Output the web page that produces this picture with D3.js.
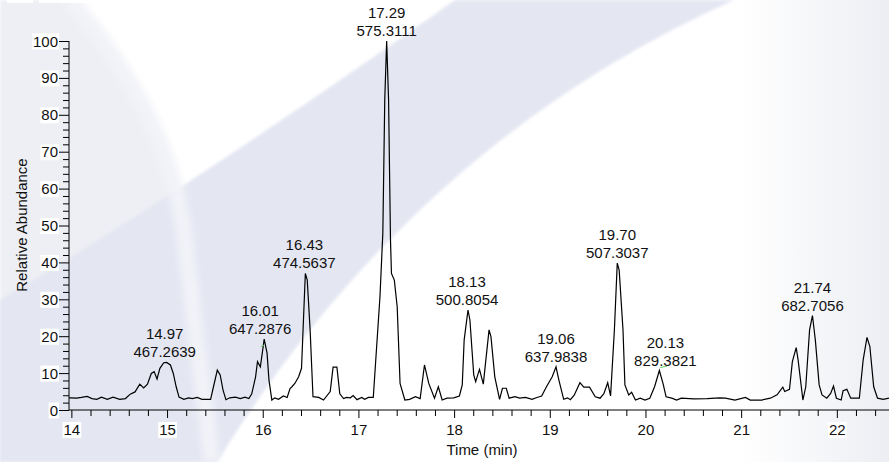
<!DOCTYPE html>
<html><head><meta charset="utf-8">
<script src="https://cdn.jsdelivr.net/npm/d3@7"></script>
<style>html,body{margin:0;padding:0;background:#fff;overflow:hidden}text{font-family:"Liberation Sans",Arial,sans-serif}</style>
</head><body><svg id="c" width="889" height="462"></svg>
<script>
const times = [13.97,13.99,14.05,14.10,14.16,14.21,14.26,14.31,14.37,14.43,14.50,14.56,14.61,14.66,14.71,14.75,14.79,14.83,14.86,14.89,14.92,14.96,14.99,15.03,15.06,15.09,15.12,15.17,15.22,15.26,15.31,15.36,15.45,15.48,15.52,15.55,15.58,15.61,15.65,15.71,15.76,15.81,15.85,15.88,15.92,15.94,15.97,16.01,16.04,16.06,16.09,16.12,16.16,16.21,16.25,16.28,16.30,16.33,16.37,16.40,16.44,16.46,16.49,16.52,16.58,16.63,16.70,16.73,16.77,16.80,16.84,16.87,16.91,16.94,16.98,17.03,17.06,17.10,17.15,17.22,17.25,17.27,17.29,17.31,17.33,17.34,17.37,17.40,17.43,17.48,17.53,17.59,17.64,17.685,17.73,17.79,17.83,17.87,17.92,17.99,18.05,18.08,18.10,18.14,18.16,18.20,18.22,18.26,18.30,18.36,18.38,18.42,18.47,18.50,18.54,18.57,18.63,18.68,18.74,18.81,18.86,18.91,18.96,19.02,19.06,19.09,19.14,19.18,19.21,19.25,19.31,19.35,19.41,19.47,19.52,19.56,19.60,19.63,19.67,19.70,19.72,19.76,19.78,19.82,19.85,19.89,19.94,19.99,20.04,20.09,20.14,20.18,20.21,20.27,20.32,20.37,20.50,20.64,20.77,20.83,20.93,21.04,21.09,21.21,21.30,21.37,21.43,21.45,21.50,21.53,21.57,21.59,21.64,21.67,21.71,21.74,21.77,21.81,21.84,21.89,21.93,21.96,21.99,22.04,22.06,22.10,22.14,22.23,22.27,22.31,22.34,22.38,22.42,22.48,22.54];
const abundance = [3.3,3.3,3.2,3.4,3.7,3.1,2.9,3.5,2.9,3.5,2.9,3.1,4.3,4.9,7.0,6.0,7.0,9.9,10.4,8.4,11.3,12.8,12.9,12.2,9.9,6.3,3.5,2.9,3.3,3.1,3.4,2.9,2.9,6.3,10.8,9.5,5.4,2.8,3.3,3.5,3.1,3.5,3.1,4.4,9.0,13.1,11.7,19.2,15.4,8.1,2.7,3.3,2.9,3.8,3.4,5.8,6.3,7.2,9.0,11.3,37.0,35.2,21.7,3.6,3.4,2.7,5.0,11.6,11.6,4.4,3.1,3.4,3.3,3.9,2.8,3.4,2.9,3.4,3.4,30.7,48,84,100,84,46,37,35.2,28,7.2,2.7,2.9,3.6,3.1,12.2,7.2,3.2,6.3,2.7,3.2,3.3,3.8,6.8,19,27.1,24.4,9.5,7.7,11,7.0,21.7,19.9,9.0,2.9,5.9,5.9,3.2,3.6,3.2,3.4,2.9,3.4,3.8,6.3,9.0,11.7,8.1,2.9,3.3,2.8,4.0,7.4,6.2,6.2,3.6,3.2,4.4,7.4,3.8,21.7,39.8,37.9,21.7,6.8,4.1,4.8,2.7,3.2,2.7,3.2,6.3,10.7,7.0,3.6,3.2,2.7,3.2,3.0,3.1,3.3,3.2,2.7,3.4,2.7,2.7,3.2,4.1,6.2,5.0,5.6,13.1,16.9,13.6,2.7,6.3,21.7,25.6,19.0,6.8,4.1,3.2,4.5,6.5,3.2,2.7,5.2,5.6,3.2,3.2,13.6,19.7,17.2,6.3,3.2,2.9,3.2];

const peakTimes = ["14.97","16.01","16.43","17.29","18.13","19.06","19.70","20.13","21.74"];
const peakMasses = ["467.2639","647.2876","474.5637","575.3111","500.8054","637.9838","507.3037","829.3821","682.7056"];
const peakValues = [12.9,19.2,37.0,100,27.1,11.7,39.8,10.7,25.6];

const xMajorTicks = [14,15,16,17,18,19,20,21,22];
const yMajorTicks = [0,10,20,30,40,50,60,70,80,90,100];
const xTitle = "Time (min)";
const yTitle = "Relative Abundance";

// small green markers: [t0, v0, t1, v1]
const greenMarks = [[15.975,17.2,16.01,17.6],[20.15,11.5,20.22,11.9]];

const W = 889, H = 462;
const svg = d3.select("#c");
const x = d3.scaleLinear().domain([13.97, 22.54]).range([69, 889]);
const y = d3.scaleLinear().domain([0, 100]).range([410, 41]);

// ---- watermark background ----
const defs = svg.append("defs");
defs.append("filter").attr("id","soft").attr("x","-10%").attr("y","-10%").attr("width","120%").attr("height","120%")
  .append("feGaussianBlur").attr("stdDeviation",1.5);
defs.append("filter").attr("id","soft2").attr("x","-50%").attr("y","-10%").attr("width","200%").attr("height","120%")
  .append("feGaussianBlur").attr("stdDeviation",3.5);
const rg = defs.append("linearGradient").attr("id","rgrad").attr("x1","0").attr("x2","1").attr("y1","0").attr("y2","0");
rg.append("stop").attr("offset","0").attr("stop-color","#eef0f4").attr("stop-opacity",0);
rg.append("stop").attr("offset","1").attr("stop-color","#eceef3").attr("stop-opacity",1);

const bg = svg.append("g");
bg.append("rect").attr("width",W).attr("height",H).attr("fill","#fff");
bg.append("rect").attr("x",740).attr("width",149).attr("height",H).attr("fill","url(#rgrad)");
const arcD = "M70,0 C130,70 175,150 185,240 C193,320 205,400 212,462";
bg.append("path").attr("d", arcD + " L0,462 L0,0 Z").attr("fill","#eeeff4").attr("filter","url(#soft)");
bg.append("path").attr("d","M0,300 C120,230 300,110 455,0 L734,0 Q414,143 217,462 L0,462 Z")
  .attr("fill","#e4e6f2").attr("filter","url(#soft)");
bg.append("path").attr("d", arcD).attr("fill","none").attr("stroke","#f2f3f8").attr("stroke-width",16).attr("filter","url(#soft2)");

// remnants at top-left
bg.append("rect").attr("x",7).attr("y",0).attr("width",26).attr("height",3).attr("fill","#fff");
bg.append("rect").attr("x",39).attr("y",0).attr("width",51).attr("height",3).attr("fill","#fff");

// ---- axes ----
const ax = svg.append("g");
ax.append("line").attr("x1",x.range()[0]).attr("x2",W).attr("y1",y(0)).attr("y2",y(0)).attr("stroke","#000");
ax.append("line").attr("x1",x.range()[0]).attr("x2",x.range()[0]).attr("y1",y(0)).attr("y2",y(100)).attr("stroke","#000");

const xMinor = d3.range(14, 22.55, 0.2).map(v => +v.toFixed(1));
ax.selectAll(".xt").data(xMinor).join("line")
  .attr("x1",d=>x(d)).attr("x2",d=>x(d)).attr("y1",y(0)).attr("y2",d=> Number.isInteger(d) ? y(0)+8 : y(0)+6)
  .attr("stroke","#000");
const yMinor = d3.range(0, 101, 2);
ax.selectAll(".yt").data(yMinor).join("line")
  .attr("y1",d=>y(d)+0.5).attr("y2",d=>y(d)+0.5).attr("x1",d=> d%10===0 ? x.range()[0]-10 : x.range()[0]-6).attr("x2",x.range()[0])
  .attr("stroke","#000");

function labelWithBg(g, tx, ty, str, anchor){
  const t = g.append("text").attr("x",tx).attr("y",ty).attr("text-anchor",anchor)
    .attr("font-size",15).attr("fill","#111").text(str);
  const b = t.node().getBBox();
  g.insert("rect", () => t.node()).attr("x",b.x-1).attr("y",b.y+1).attr("width",b.width+2).attr("height",b.height-1).attr("fill","#fff");
}
const xl = svg.append("g");
xMajorTicks.forEach(v => labelWithBg(xl, x(v), 435, String(v), "middle"));
const yl = svg.append("g");
yMajorTicks.forEach(v => labelWithBg(yl, x.range()[0]-11, y(v)+5.5, String(v), "end"));

svg.append("text").attr("x", 482).attr("y", 455).attr("text-anchor","middle").attr("font-size",15).attr("fill","#111").text(xTitle);
svg.append("text").attr("transform","translate(27,225) rotate(-90)").attr("text-anchor","middle").attr("font-size",15).attr("fill","#111").text(yTitle);

// ---- trace ----
const pts = times.map((t,i)=>[t, abundance[i]]);
svg.append("path").datum(pts)
  .attr("d", d3.line().x(d=>x(d[0])).y(d=>y(d[1])))
  .attr("fill","none").attr("stroke","#000").attr("stroke-width",1.2).attr("stroke-linejoin","miter");

// green markers
svg.selectAll(".gm").data(greenMarks).join("line")
  .attr("x1",d=>x(d[0])).attr("y1",d=>y(d[1])).attr("x2",d=>x(d[2])).attr("y2",d=>y(d[3]))
  .attr("stroke","#5fcf5f").attr("stroke-width",1);

// ---- peak labels ----
const nudge = {"16.01": -4, "20.13": 7};
const pl = svg.append("g");
peakTimes.forEach((pt,i) => {
  const cx = x(+pt) + (nudge[pt] || 0);
  const top = y(peakValues[i]);
  pl.append("text").attr("x",cx).attr("y",top-23).attr("text-anchor","middle").attr("font-size",15).attr("fill","#111").text(pt);
  pl.append("text").attr("x",cx).attr("y",top-5).attr("text-anchor","middle").attr("font-size",15).attr("fill","#111").text(peakMasses[i]);
});
</script>
</body></html>
